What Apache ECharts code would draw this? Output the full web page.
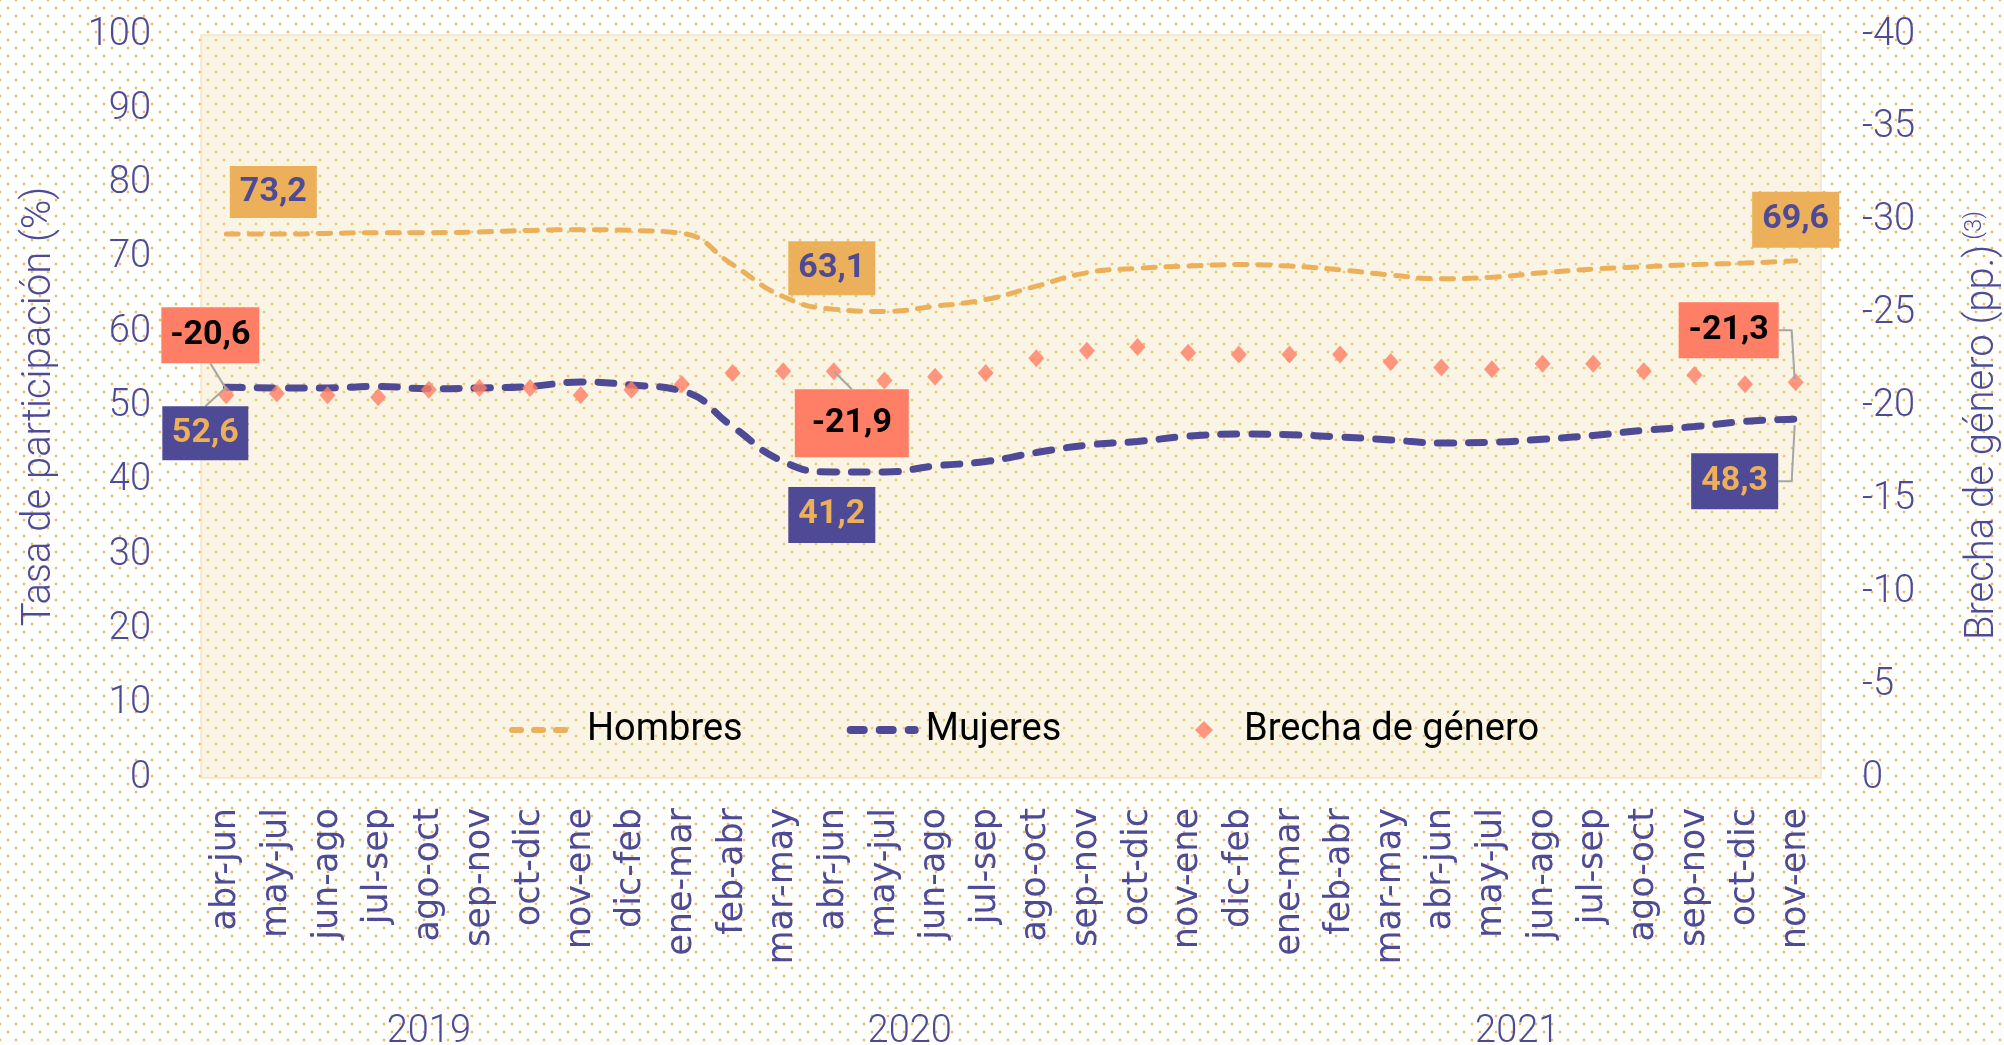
<!DOCTYPE html>
<html lang="es">
<head>
<meta charset="UTF-8">
<title>Tasa de participación por sexo</title>
<script src="https://cdn.jsdelivr.net/npm/echarts@6/dist/echarts.min.js"></script>
<style>
  html, body { margin: 0; padding: 0; }
  body {
    width: 2004px;
    height: 1045px;
    background-color: #fff;
    background-image:
      radial-gradient(circle, #e5c063 1.2px, transparent 1.7px),
      radial-gradient(circle, #e5c063 1.2px, transparent 1.7px);
    background-size: 16px 16px;
    background-position: 0 0, 8px 8px;
  }
  #chart { width: 2004px; height: 1045px; }
</style>
</head>
<body>
<div id="chart"></div>
<script>
// trimestres móviles
const periodos = ['abr-jun', 'may-jul', 'jun-ago', 'jul-sep', 'ago-oct', 'sep-nov', 'oct-dic', 'nov-ene',
  'dic-feb', 'ene-mar', 'feb-abr', 'mar-may', 'abr-jun', 'may-jul', 'jun-ago', 'jul-sep', 'ago-oct', 'sep-nov', 'oct-dic', 'nov-ene',
  'dic-feb', 'ene-mar', 'feb-abr', 'mar-may', 'abr-jun', 'may-jul', 'jun-ago', 'jul-sep', 'ago-oct', 'sep-nov', 'oct-dic', 'nov-ene'];
const anios = ['2019', '2020', '2021'];

const hombres = [73.2, 73.2, 73.3, 73.4, 73.4, 73.5, 73.7, 73.8, 73.7, 73.3, 69.1, 64.8, 63.1, 62.8, 63.5, 64.4,
  66.2, 68.0, 68.6, 68.9, 69.1, 68.9, 68.4, 67.7, 67.2, 67.4, 68.0, 68.5, 68.8, 69.1, 69.3, 69.6];
const mujeres = [52.6, 52.5, 52.5, 52.7, 52.4, 52.5, 52.7, 53.3, 52.9, 52.1, 47.3, 42.6, 41.2, 41.2, 42.0, 42.6,
  43.8, 44.8, 45.3, 46.0, 46.3, 46.2, 45.9, 45.5, 45.1, 45.2, 45.6, 46.1, 46.8, 47.3, 48.0, 48.3];
const brecha = [-20.6, -20.7, -20.6, -20.5, -20.9, -21.0, -21.0, -20.6, -20.9, -21.2, -21.8, -21.9, -21.9, -21.4, -21.6, -21.8,
  -22.6, -23.0, -23.2, -22.9, -22.8, -22.8, -22.8, -22.4, -22.1, -22.0, -22.3, -22.3, -21.9, -21.7, -21.2, -21.3];

const NAR = '#ecb05a';
const MOR = '#4f4a96';
const SAL = '#ff7f66';
const FONT = 'Roboto, "Noto Sans", sans-serif';

// where the year names sit, in category steps
const anioPos = [4, 13.5, 25.5];

const chart = echarts.init(document.getElementById('chart'));

const textoLeyenda = { fontSize: 38, fontFamily: FONT, color: '#000', padding: [0, 0, 0, 6] };

chart.setOption({
  animation: false,
  grid: {
    left: 201, right: 183, top: 35, bottom: 267,
    outerBoundsMode: 'none',
    containLabel: false,
    show: true,
    backgroundColor: 'rgba(240,222,172,0.33)',
    borderColor: 'rgba(240,222,172,0.5)',
    borderWidth: 2
  },
  legend: [
    {
      left: 504, top: 706,
      itemWidth: 64, itemHeight: 18, itemGap: 104,
      textStyle: textoLeyenda,
      data: [
        { name: 'Hombres', itemStyle: { opacity: 0 },
          lineStyle: { color: NAR, width: 6, type: [9, 13], cap: 'round' } },
        { name: 'Mujeres', itemStyle: { opacity: 0 },
          lineStyle: { color: MOR, width: 8, type: [13, 16], cap: 'round' } }
      ]
    },
    {
      left: 1190, top: 706,
      itemWidth: 18, itemHeight: 18,
      textStyle: Object.assign({}, textoLeyenda, { padding: [0, 0, 0, 26] }),
      data: ['Brecha de género']
    }
  ],
  xAxis: {
    type: 'category',
    data: periodos,
    boundaryGap: true,
    axisLine: { show: false },
    axisTick: { show: false },
    axisLabel: {
      interval: 0, rotate: 90, margin: 30,
      fontFamily: '"DejaVu Sans", sans-serif', fontSize: 35, color: MOR
    }
  },
  yAxis: [
    {
      type: 'value', min: 0, max: 100, interval: 10,
      splitLine: { show: false },
      axisLine: { show: false }, axisTick: { show: false },
      axisLabel: { fontFamily: FONT, fontWeight: 300, fontSize: 38, color: MOR, margin: 50 },
      name: 'Tasa de participación (%)',
      nameLocation: 'middle', nameRotate: 90, nameGap: 141,
      nameTextStyle: { fontFamily: FONT, fontWeight: 300, fontSize: 40, color: MOR }
    },
    {
      type: 'value', position: 'right', min: -40, max: 0, interval: 5, inverse: true,
      splitLine: { show: false },
      axisLine: { show: false }, axisTick: { show: false },
      axisLabel: { fontFamily: FONT, fontWeight: 300, fontSize: 38, color: MOR, margin: 41 },
      name: '{t|Brecha de género (pp.)}{s|(3)}',
      nameLocation: 'middle', nameRotate: 90, nameGap: 142,
      nameTextStyle: {
        color: MOR,
        padding: [0, 38, 0, 0],
        rich: {
          t: { fontFamily: FONT, fontWeight: 300, fontSize: 40, color: MOR },
          s: { fontFamily: FONT, fontWeight: 300, fontSize: 24, color: MOR, verticalAlign: 'top', padding: [0, 0, 14, 5] }
        }
      }
    }
  ],
  series: [
    {
      name: 'Hombres', type: 'line', data: hombres, smooth: 0.5, symbol: 'none', z: 3,
      itemStyle: { color: NAR },
      lineStyle: { color: NAR, width: 5, type: [12, 11], cap: 'round' }
    },
    {
      name: 'Mujeres', type: 'line', data: mujeres, smooth: 0.5, symbol: 'none', z: 3,
      itemStyle: { color: MOR },
      lineStyle: { color: MOR, width: 7, type: [16, 15], cap: 'round' }
    },
    {
      name: 'Brecha de género', type: 'scatter', yAxisIndex: 1, data: brecha,
      symbol: 'diamond', symbolSize: [16, 18], z: 4,
      itemStyle: { color: SAL }
    }
  ]
});

// etiquetas de datos
const fmt = v => v.toFixed(1).replace('.', ',');
const serieDatos = [hombres, mujeres, brecha];
const estilos = [
  { bg: NAR, fg: MOR },
  { bg: MOR, fg: NAR },
  { bg: SAL, fg: '#000' }
];
// s = serie, i = índice, dx/dy = centro de la caja respecto del punto
const etiquetas = [
  { s: 0, i: 0, dx: 47, dy: -42, w: 87, h: 52 },
  { s: 1, i: 0, dx: -21, dy: 46, w: 86, h: 54, guia: 'recta' },
  { s: 2, i: 0, dx: -16, dy: -60, w: 98, h: 56, guia: 'recta' },
  { s: 0, i: 12, dx: -2, dy: -41, w: 87, h: 54 },
  { s: 2, i: 12, dx: 18, dy: 52, w: 114, h: 68, guia: 'recta' },
  { s: 1, i: 12, dx: -2, dy: 43, w: 87, h: 56 },
  { s: 0, i: 31, dx: 0, dy: -41, w: 87, h: 56 },
  { s: 2, i: 31, dx: -67, dy: -52, w: 100, h: 56, guia: 'codo' },
  { s: 1, i: 31, dx: -61, dy: 62, w: 87, h: 56, guia: 'codo' }
];

const graficos = [];
etiquetas.forEach(e => {
  const v = serieDatos[e.s][e.i];
  const p = chart.convertToPixel({ seriesIndex: e.s }, [e.i, v]);
  const cx = p[0] + e.dx, cy = p[1] + e.dy;
  const x0 = cx - e.w / 2, y0 = cy - e.h / 2;
  if (e.guia === 'recta') {
    const ey = e.dy < 0 ? y0 + e.h : y0;
    graficos.push({
      type: 'polyline', z: 10,
      shape: { points: [[cx, ey], [p[0], p[1] + (e.dy < 0 ? -6 : 0)]] },
      style: { stroke: '#a6a6a6', lineWidth: 2, fill: null }
    });
  } else if (e.guia === 'codo') {
    const ex = x0 + e.w;
    graficos.push({
      type: 'polyline', z: 10,
      shape: { points: [[ex, cy], [p[0] - 4, cy], [p[0] - 1, p[1] + (e.dy < 0 ? -3 : 6)]] },
      style: { stroke: '#a6a6a6', lineWidth: 2, fill: null }
    });
  }
  graficos.push({
    type: 'rect', z: 11,
    shape: { x: x0, y: y0, width: e.w, height: e.h },
    style: { fill: estilos[e.s].bg }
  });
  graficos.push({
    type: 'text', z: 12,
    x: cx, y: cy,
    style: {
      text: fmt(v), fill: estilos[e.s].fg,
      font: 'bold 34px ' + FONT,
      align: 'center', verticalAlign: 'middle'
    }
  });
});

// años bajo las categorías
anios.forEach((a, k) => {
  const pos = anioPos[k];
  const lo = chart.convertToPixel({ xAxisIndex: 0 }, Math.floor(pos));
  const hi = chart.convertToPixel({ xAxisIndex: 0 }, Math.ceil(pos));
  graficos.push({
    type: 'text', z: 12,
    x: (lo + hi) / 2, y: 1032,
    style: {
      text: a, fill: MOR,
      font: '300 38px ' + FONT,
      align: 'center', verticalAlign: 'middle'
    }
  });
});

chart.setOption({ graphic: graficos });
</script>
</body>
</html>
